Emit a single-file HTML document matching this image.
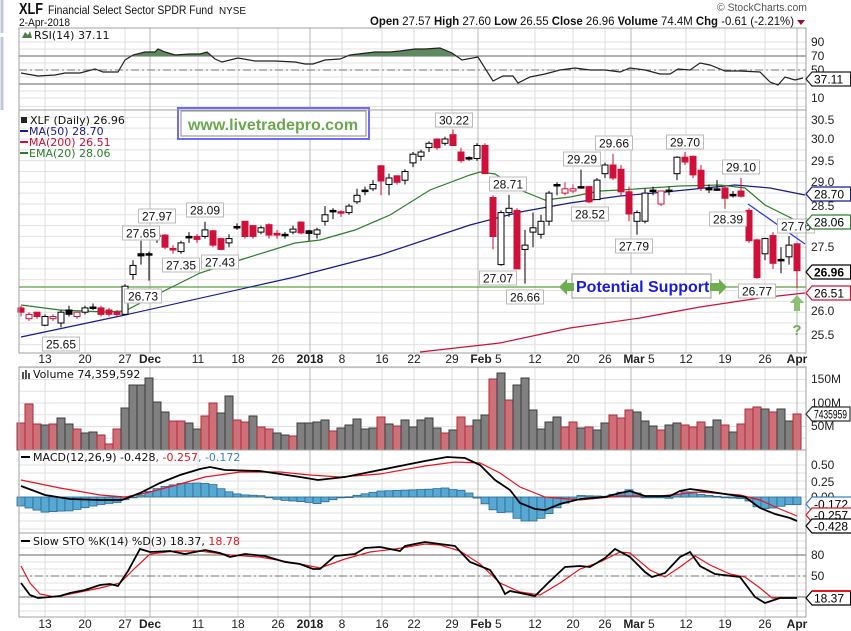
<!DOCTYPE html>
<html><head><meta charset="utf-8"><style>
html,body{margin:0;padding:0;background:#fff;width:851px;height:631px;overflow:hidden}
svg{display:block}
text{font-family:"Liberation Sans",sans-serif}
.lg{font-family:"DejaVu Sans","Liberation Sans",sans-serif;font-size:11px}
.ax{font-size:12px;fill:#222}
</style></head><body>
<div id="c"></div>
<script>
var s=[];
function P(x){s.push(x);}
var L=19,R=806;
var panels=[[28,110],[110,353],[367,450],[450,533],[533,617]];
P('<rect x="0" y="0" width="851" height="631" fill="#fff"/>');
function yp(p){return 139+(30-p)*43.3;}
function hl(y,c,w,d){P('<line x1="'+L+'" x2="'+R+'" y1="'+y+'" y2="'+y+'" stroke="'+c+'" stroke-width="'+(w||1)+'"'+(d?' stroke-dasharray="'+d+'"':'')+'/>');}
for(var v=10;v<=90;v+=10){hl(70-(v-50)*0.7,'#e2e2e2');}
for(var p=25.25;p<=30.8;p+=0.25){hl(yp(p),'#e2e2e2');}
for(var m=0;m<=175;m+=25){hl(450-m*0.47,'#e2e2e2');}
for(var q=-0.5;q<=0.6;q+=0.125){hl(497-q*64,'#e2e2e2');}
for(var k=0;k<=100;k+=10){hl(597-(k-20)*0.7,'#e2e2e2');}
var dl=[[45,'13'],[85,'20'],[125,'27'],[150,'Dec',1],[198,'11'],[238,'18'],[278,'26'],[310,'2018',1],[342,'8'],[382,'16'],[414,'22'],[452,'29'],[478,'Feb',1,'5'],[535,'12'],[573,'20'],[605,'26'],[631,'Mar',1,'5'],[686,'12'],[725,'19'],[765,'26'],[797,'Apr',1]];
dl.forEach(function(d){panels.forEach(function(pn){P('<line x1="'+d[0]+'" x2="'+d[0]+'" y1="'+pn[0]+'" y2="'+pn[1]+'" stroke="'+(d[2]?'#b8b8b8':'#dedede')+'"/>');});});
hl(56,'#666');hl(84,'#666');hl(70,'#777',1,'8,3,2,3');
hl(555,'#666');hl(597,'#666');hl(576,'#777',1,'8,3,2,3');
var rsi=[[21,73],[38,76],[55,75],[65,73],[80,73],[95,69],[103,72],[118,72],[125,60],[133,55],[145,52],[155,52],[158,49],[165,52],[175,55],[190,54],[200,54],[207,52],[215,59],[222,62],[238,58],[255,61],[275,61],[295,62],[305,64],[313,64],[325,60],[340,59],[350,55],[375,52],[390,52],[400,51],[415,49],[425,49],[440,48],[452,53],[462,60],[478,57],[493,81],[503,76],[513,76],[518,83],[530,77],[545,74],[560,70],[575,68],[590,70],[605,70],[620,72],[630,68],[645,70],[660,74],[670,74],[678,69],[690,70],[700,63],[710,65],[725,71],[740,71],[760,72],[770,82],[778,85],[785,77],[795,80],[803,78]];
function pts(a){return a.map(function(p){return p[0]+','+p[1];}).join(' ');}
P('<clipPath id="above"><rect x="0" y="0" width="851" height="56"/></clipPath>');
P('<polygon clip-path="url(#above)" points="'+pts(rsi)+' 803,56 21,56" fill="#5f8a5f"/>');
P('<polyline points="'+pts(rsi)+'" fill="none" stroke="#222" stroke-width="1.2"/>');
P('<line x1="'+L+'" x2="'+R+'" y1="287" y2="287" stroke="#5aa040" stroke-width="1.2"/>');
var ma50=[[21,337],[125,315],[295,277],[380,255],[470,225],[520,212],[570,203],[620,196],[665,192],[735,185],[770,188],[805,195]];
var ema=[[21,305],[60,310],[105,312],[125,311],[150,298],[200,273],[240,260],[295,243],[320,240],[355,230],[390,215],[430,190],[470,175],[480,172],[495,174],[520,190],[545,200],[570,197],[600,191],[620,190],[680,186],[720,185],[745,188],[765,205],[785,215],[805,225]];
var ma200=[[420,352],[500,343],[570,328],[640,318],[700,307],[760,298],[805,293]];
P('<polyline points="'+pts(ma50)+'" fill="none" stroke="#1a1a8c" stroke-width="1.2"/>');
P('<polyline points="'+pts(ema)+'" fill="none" stroke="#2e7d2e" stroke-width="1.2"/>');
P('<polyline points="'+pts(ma200)+'" fill="none" stroke="#d0103a" stroke-width="1.2"/>');
P('<line x1="748" y1="204" x2="805" y2="244" stroke="#2b3ff0" stroke-width="1.3"/>');
var C=[[26.1,26.0,26.15,25.9,'r'],[25.85,25.95,26.0,25.8,'h'],[26.0,25.9,26.0,25.85,'r'],[25.7,25.9,25.95,25.68,'w'],[25.85,25.9,25.95,25.8,'h'],[25.75,26.0,26.05,25.65,'w'],[25.95,26.05,26.15,25.9,'b'],[25.9,26.0,26.0,25.85,'h'],[26.0,26.1,26.15,25.95,'w'],[26.1,26.12,26.2,26.05,'b'],[26.1,25.95,26.15,25.9,'r'],[26.05,25.95,26.1,25.9,'r'],[26.0,25.95,26.05,25.9,'r'],[25.95,26.6,26.65,25.95,'w'],[26.87,27.08,27.2,26.75,'w'],[27.3,27.35,27.65,27.1,'b'],[27.35,27.32,27.4,26.73,'b'],[27.75,27.78,27.97,27.6,'b'],[27.78,27.5,27.8,27.45,'r'],[27.47,27.45,27.55,27.35,'r'],[27.4,27.6,27.65,27.35,'w'],[27.72,27.75,27.85,27.6,'b'],[27.75,27.68,27.8,27.6,'r'],[27.75,27.9,28.09,27.7,'w'],[27.88,27.55,27.9,27.5,'r'],[27.7,27.45,27.72,27.43,'r'],[27.6,27.7,27.8,27.5,'w'],[27.95,27.98,28.05,27.9,'b'],[28.1,27.75,28.1,27.7,'r'],[28.0,27.75,28.0,27.7,'r'],[27.85,27.95,28.0,27.8,'w'],[28.02,27.78,28.05,27.7,'r'],[27.82,27.78,27.9,27.7,'r'],[27.78,27.8,27.85,27.7,'b'],[27.85,27.92,28.0,27.8,'w'],[28.08,27.83,28.1,27.8,'r'],[27.88,27.82,27.9,27.65,'b'],[27.8,27.9,27.95,27.7,'w'],[28.1,28.25,28.45,28.0,'w'],[28.33,28.35,28.4,28.15,'b'],[28.32,28.3,28.35,28.2,'r'],[28.3,28.45,28.5,28.25,'w'],[28.55,28.7,28.85,28.5,'w'],[28.8,28.82,28.9,28.7,'b'],[28.85,28.95,29.05,28.8,'w'],[29.38,29.03,29.4,28.7,'r'],[28.95,29.1,29.2,28.7,'w'],[29.15,29.0,29.15,28.95,'r'],[29.05,29.25,29.3,28.95,'w'],[29.45,29.65,29.7,29.35,'w'],[29.6,29.7,29.75,29.5,'w'],[29.8,29.9,29.95,29.7,'w'],[30.0,29.8,30.0,29.75,'r'],[29.9,30.0,30.05,29.85,'w'],[30.1,29.85,30.22,29.85,'r'],[29.7,29.5,29.8,29.45,'r'],[29.57,29.55,29.6,29.5,'b'],[29.55,29.85,29.9,29.5,'w'],[29.85,29.2,29.9,29.2,'r'],[28.65,27.75,28.7,27.45,'r'],[27.1,28.3,28.35,27.07,'w'],[28.3,28.4,28.71,28.2,'w'],[28.35,27.0,28.4,27.0,'r'],[27.45,27.55,27.9,26.66,'w'],[27.85,27.95,28.3,27.5,'w'],[27.8,28.1,28.25,27.7,'w'],[28.1,28.75,28.8,28.0,'w'],[28.93,28.95,29.0,28.7,'b'],[28.75,28.85,29.0,28.7,'h'],[28.8,28.85,28.95,28.75,'h'],[28.9,28.88,29.29,28.85,'b'],[28.9,28.55,28.9,28.52,'r'],[28.6,29.05,29.1,28.6,'w'],[29.2,29.4,29.45,29.1,'w'],[29.4,29.1,29.66,29.05,'r'],[29.3,28.78,29.4,28.7,'r'],[28.78,28.27,28.9,28.1,'r'],[28.1,28.3,28.35,27.79,'w'],[28.1,28.75,28.85,28.05,'w'],[28.8,28.82,28.9,28.7,'b'],[28.5,28.8,28.8,28.45,'h'],[28.8,28.82,28.9,28.7,'b'],[29.2,29.58,29.6,29.05,'w'],[29.58,29.47,29.70,29.4,'r'],[29.6,29.17,29.62,29.1,'r'],[29.28,28.87,29.4,28.8,'r'],[28.86,28.85,28.95,28.75,'b'],[28.84,28.85,29.05,28.8,'b'],[28.87,28.63,28.9,28.39,'r'],[28.7,28.72,28.8,28.65,'b'],[28.8,28.68,29.1,28.65,'r'],[28.35,27.65,28.4,27.6,'r'],[27.67,26.8,27.7,26.77,'r'],[27.35,27.7,27.72,27.2,'w'],[27.77,27.13,27.85,27.0,'r'],[27.22,27.2,27.5,26.9,'b'],[27.28,27.55,27.76,27.1,'w'],[27.58,26.96,27.6,26.55,'r']];
C.forEach(function(c,i){var x=21+8*i;var t=c[4];var col=(t=='r'||t=='h')?'#d0103a':'#000';
P('<line x1="'+x+'" x2="'+x+'" y1="'+yp(c[2]).toFixed(1)+'" y2="'+yp(c[3]).toFixed(1)+'" stroke="'+col+'"/>');
var y1=Math.min(yp(c[0]),yp(c[1])),h=Math.max(Math.abs(yp(c[0])-yp(c[1])),1.5);
var fill=(t=='w'||t=='h')?'#fff':col;
P('<rect x="'+(x-3)+'" y="'+y1.toFixed(1)+'" width="6" height="'+h.toFixed(1)+'" fill="'+fill+'" stroke="'+col+'" stroke-width="1"/>');});
function box(t,x,y){var w=t.length*6.6+4;P('<rect x="'+(x-w/2)+'" y="'+(y-7)+'" width="'+w+'" height="14" fill="#fff" stroke="#bbb"/><text x="'+x+'" y="'+(y+4.5)+'" font-size="12" text-anchor="middle" fill="#111">'+t+'</text>');}
[['25.65',61,344],['26.73',143,296],['27.65',141,233],['27.97',157,216],['27.35',181,265],['28.09',205,210],['27.43',220,262],['30.22',454,120],['28.71',508,184],['27.07',498,278],['26.66',525,297],['29.29',582,159],['28.52',590,214],['29.66',614,143],['27.79',634,246],['29.70',685,142],['29.10',741,167],['28.39',728,219],['27.76',796,226],['26.77',757,291]].forEach(function(b){box(b[0],b[1],b[2]);});
P('<rect x="572" y="274" width="139" height="24" fill="#fff" stroke="#999"/><text x="576" y="292" font-size="16" font-weight="bold" fill="#1a1ae6">Potential Support</text>');
P('<polygon points="559,287 567,279 567,283 574,283 574,291 567,291 567,295" fill="#6fae50"/>');
P('<polygon points="727,287 719,279 719,283 710,283 710,291 719,291 719,295" fill="#6fae50"/>');
P('<polygon points="797,295 790,303 794,303 794,311 800,311 800,303 804,303" fill="#8cc073"/>');
P('<text x="797" y="335" font-size="15" font-weight="bold" fill="#6fae50" text-anchor="middle">?</text>');
P('<rect x="178" y="108" width="191" height="31" fill="#fff" stroke="#6e6ef5" stroke-width="2"/><rect x="181" y="111" width="185" height="25" fill="none" stroke="#888"/><text x="273" y="130" font-size="16" font-weight="bold" fill="#6aa84f" text-anchor="middle">www.livetradepro.com</text>');
var V=[423,404,424,425,424,418,424,429,433,432,435,444,429,408,385,385,378,402,412,421,421,423,429,416,403,413,396,420,422,416,427,429,433,435,436,423,423,422,420,431,428,425,419,429,428,417,424,426,420,427,420,418,428,433,430,417,426,420,415,379,373,400,385,378,410,429,422,417,427,422,428,427,430,423,415,418,410,412,421,426,430,425,423,425,427,422,427,420,425,432,424,409,407,409,412,409,421,414];
var VC='rrrgrggrggrrrggggggrrggrrggrrgrrggrggggrgggggrgrgggggrgrrggrgrggggggrrgrggrrrgggrggrrrggrgrrrgrggr';
V.forEach(function(y,i){var x=21+8*i;var r=VC[i]=='r';P('<rect x="'+(x-4)+'" y="'+y+'" width="8" height="'+(450-y)+'" fill="'+(r?'#cf6f78':'#808080')+'" stroke="'+(r?'#b02a3c':'#3c3c3c')+'" stroke-width="1"/>');});
var macd=[[21,486],[45,495],[70,499],[100,500],[122,500],[140,493],[160,483],[180,475],[200,469],[210,467],[225,470],[260,471],[300,477],[318,480],[345,477],[370,472],[400,466],[425,461],[447,457],[465,458],[480,465],[495,480],[510,490],[520,503],[535,509],[545,510],[560,504],[580,499],[605,497],[620,493],[630,491],[645,496],[670,496],[680,491],[690,489],[705,491],[725,494],[745,497],[760,508],[775,514],[790,518],[797,521]];
var sig=[[21,480],[60,488],[100,495],[125,497],[150,492],[180,484],[205,477],[240,472],[280,472],[310,475],[340,477],[380,474],[425,466],[455,462],[480,463],[500,473],[520,487],[545,497],[580,500],[620,496],[660,496],[700,492],[740,495],[760,500],[780,509],[797,516]];
function it(a,x){for(var j=0;j<a.length-1;j++){if(x<=a[j+1][0]){var t=(x-a[j][0])/(a[j+1][0]-a[j][0]);return a[j][1]+t*(a[j+1][1]-a[j][1]);}}return a[a.length-1][1];}
for(var i=0;i<98;i++){var x=21+8*i;var d=(it(macd,x)-it(sig,x))*1.5;var y0=Math.min(497,497+d),h=Math.max(Math.abs(d),0.8);P('<rect x="'+(x-4)+'" y="'+y0.toFixed(1)+'" width="8" height="'+h.toFixed(1)+'" fill="#58a8d4" stroke="#2a6a90" stroke-width="0.8"/>');}
P('<polyline points="'+pts(sig)+'" fill="none" stroke="#e8141e" stroke-width="1.2"/>');
P('<polyline points="'+pts(macd)+'" fill="none" stroke="#000" stroke-width="1.8"/>');
var K=[[21,583],[30,595],[38,598],[50,597],[60,596],[70,593],[85,590],[100,585],[110,584],[118,586],[128,571],[140,549],[150,552],[170,551],[185,554],[205,550],[220,553],[230,557],[245,554],[265,556],[285,562],[300,564],[313,569],[320,569],[335,556],[355,554],[365,548],[380,547],[400,551],[405,546],[425,542],[440,544],[455,546],[470,562],[490,570],[500,584],[505,594],[510,591],[520,593],[535,596],[548,583],[565,567],[580,566],[590,567],[605,558],[615,549],[630,557],[645,572],[652,577],[665,573],[680,557],[690,552],[700,566],[715,574],[740,577],[755,597],[765,603],[780,598],[797,598]];
var D=[[21,566],[30,583],[40,594],[55,597],[80,592],[100,588],[120,583],[135,568],[150,554],[175,551],[200,551],[230,555],[260,557],[300,564],[320,568],[345,559],[370,552],[395,549],[425,544],[440,545],[460,551],[480,564],[500,583],[520,592],[540,595],[560,583],[580,569],[600,562],[620,552],[630,553],[650,570],[665,577],[680,567],[695,556],[710,565],[730,574],[745,577],[760,588],[772,598],[797,598]];
P('<polyline points="'+pts(D)+'" fill="none" stroke="#e8141e" stroke-width="1.2"/>');
P('<polyline points="'+pts(K)+'" fill="none" stroke="#000" stroke-width="1.8"/>');
panels.forEach(function(pn){P('<rect x="'+L+'" y="'+pn[0]+'" width="'+(R-L)+'" height="'+(pn[1]-pn[0])+'" fill="none" stroke="#a0a0a0"/>');});
[359,624].forEach(function(y){dl.forEach(function(d){var t=d[3]?'<tspan font-weight="bold">'+d[1]+'</tspan> '+d[3]:d[1];var x=d[3]?d[0]+8:d[0];P('<text class="ax" x="'+x+'" y="'+(y+4)+'" text-anchor="middle"'+(d[2]&&!d[3]?' font-weight="bold"':'')+'>'+t+'</text>');});});
function rl(t,y){P('<text class="ax" x="811" y="'+(y+4)+'">'+t+'</text>');}
[['90',42],['70',56],['50',70],['10',98],['30.5',120],['30.0',139],['29.5',161],['29.0',182],['28.5',206],['27.5',247],['26.0',311],['25.5',335],['150M',379],['100M',403],['50M',426],['0.50',465],['0.25',482],['0.00',497],['80',555],['50',576]].forEach(function(a){rl(a[0],a[1]);});
function tag(t,y,c,b,top,fs,tw){fs=fs||12;var w=tw?tw+5:t.length*fs*0.56+5;P('<polygon points="806,'+y+' 812,'+(y-7)+' '+(812+w)+','+(y-7)+' '+(812+w)+','+(y+7)+' 812,'+(y+7)+'" fill="#fff" stroke="'+c+'" stroke-width="1.2"/>'+(top?'<line x1="812" x2="'+(812+w)+'" y1="'+(y-7)+'" y2="'+(y-7)+'" stroke="'+top+'" stroke-width="2"/>':'')+'<text x="814" y="'+(y+4.5)+'" font-size="'+fs+'" fill="#000"'+(b?' font-weight="bold"':'')+(tw?' textLength="'+tw+'" lengthAdjust="spacingAndGlyphs"':'')+'>'+t+'</text>');}
tag('37.11',79,'#222');tag('28.70',194,'#1a1a8c');tag('28.06',222,'#2e7d2e');tag('26.96',272,'#000',1);tag('26.51',293,'#d0103a');
tag('7435959',414,'#333',0,0,12,33);tag('-0.172',504,'#3a7fc0');tag('-0.257',515,'#e8141e');tag('-0.428',526,'#000');tag('18.37',598,'#000',0,'#e8141e');
P('<polygon points="22,38 25,32 28,35 30,31 32,38" fill="#4f7f4f"/><text class="lg" x="34" y="39" fill="#111">RSI(14) 37.11</text>');
P('<text class="lg" x="30" y="124" fill="#111">XLF (Daily) 26.96</text><rect x="21" y="117" width="6" height="6" fill="#222"/>');
P('<line x1="20" x2="28" y1="131" y2="131" stroke="#1a1a8c" stroke-width="2"/><text class="lg" x="29" y="135" fill="#1a1a8c">MA(50) 28.70</text>');
P('<line x1="20" x2="28" y1="142" y2="142" stroke="#d0103a" stroke-width="2"/><text class="lg" x="29" y="146" fill="#d0103a">MA(200) 26.51</text>');
P('<line x1="20" x2="28" y1="153" y2="153" stroke="#2e7d2e" stroke-width="2"/><text class="lg" x="29" y="157" fill="#2e7d2e">EMA(20) 28.06</text>');
P('<rect x="22" y="372" width="2" height="7" fill="#555"/><rect x="25" y="370" width="2" height="9" fill="#555"/><rect x="28" y="373" width="2" height="6" fill="#555"/><text class="lg" x="33" y="378" fill="#111">Volume 74,359,592</text>');
P('<line x1="21" x2="30" y1="457" y2="457" stroke="#000" stroke-width="2"/><text class="lg" x="33" y="461" fill="#111">MACD(12,26,9) -0.428<tspan fill="#e8141e">, -0.257</tspan><tspan fill="#3a7fc0">, -0.172</tspan></text>');
P('<line x1="21" x2="30" y1="541" y2="541" stroke="#000" stroke-width="2"/><text class="lg" x="33" y="545" fill="#111">Slow STO %K(14) %D(3) 18.37, <tspan fill="#e8141e">18.78</tspan></text>');
P('<text x="19" y="14" font-size="16" font-weight="bold" fill="#111" textLength="24" lengthAdjust="spacingAndGlyphs">XLF</text>');
P('<text x="48" y="14" font-size="12" fill="#111" textLength="165" lengthAdjust="spacingAndGlyphs">Financial Select Sector SPDR Fund</text>');
P('<text x="219" y="14" font-size="10" fill="#111" textLength="27" lengthAdjust="spacingAndGlyphs">NYSE</text>');
P('<text x="19" y="26" font-size="11" fill="#111" textLength="51" lengthAdjust="spacingAndGlyphs">2-Apr-2018</text>');
P('<text x="717" y="11" font-size="11" fill="#555" textLength="90" lengthAdjust="spacingAndGlyphs">© StockCharts.com</text>');
P('<text x="370" y="25" font-size="12" fill="#111" textLength="424" lengthAdjust="spacingAndGlyphs"><tspan font-weight="bold">Open</tspan> 27.57 <tspan font-weight="bold">High</tspan> 27.60 <tspan font-weight="bold">Low</tspan> 26.55 <tspan font-weight="bold">Close</tspan> 26.96 <tspan font-weight="bold">Volume</tspan> 74.4M <tspan font-weight="bold">Chg</tspan> -0.61 (-2.21%)</text>');
P('<polygon points="797,20 805,20 801,25" fill="#a0102a"/>');
P('<line x1="2" y1="0" x2="2" y2="33" stroke="#c0c8d8" stroke-width="3"/><line x1="2" y1="37" x2="2" y2="110" stroke="#c0c8d8" stroke-width="3"/>');
document.getElementById('c').innerHTML='<svg xmlns="http://www.w3.org/2000/svg" width="851" height="631" viewBox="0 0 851 631">'+s.join('')+'</svg>';
</script>
</body></html>
